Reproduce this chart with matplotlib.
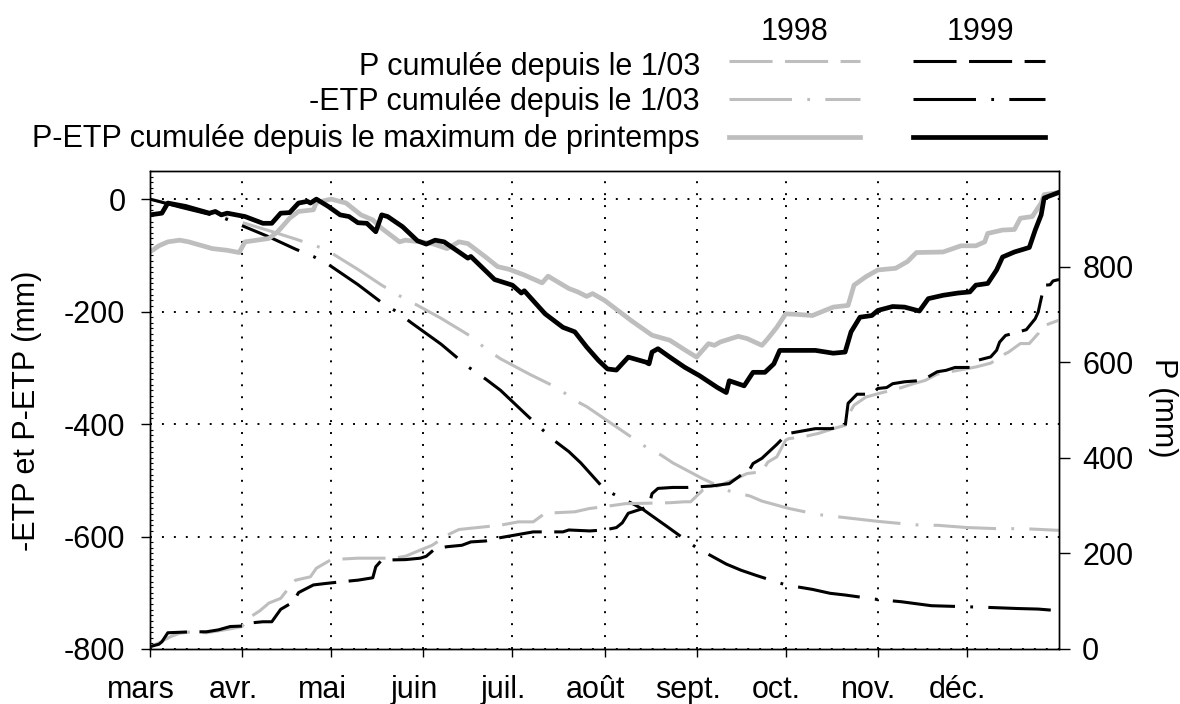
import numpy as np
import matplotlib
matplotlib.use('Agg')
import matplotlib.pyplot as plt
from matplotlib.lines import Line2D
from matplotlib.ticker import MultipleLocator
from matplotlib.transforms import ScaledTranslation

plt.rcParams['font.family'] = ['Liberation Sans', 'DejaVu Sans']
plt.rcParams['font.size'] = 22
plt.rcParams['lines.scale_dashes'] = False
plt.rcParams['axes.unicode_minus'] = False

# x = days since 1 March
month_days = [0, 31, 61, 92, 122, 153, 184, 214, 245, 275]
month_labels = ['mars', 'avr.', 'mai', 'juin', 'juil.', 'août', 'sept.', 'oct.', 'nov.', 'déc.']

# -ETP cumulée depuis le 1/03 (mm, left axis)
etp98 = [(0, 0), (10, -12), (20, -24), (30, -40), (40, -56), (49, -71), (54, -80), (59, -89),
         (70, -125), (78, -153), (84, -172), (88, -183), (98, -212), (108, -244), (113, -266),
         (118, -284), (128, -312), (138, -338), (142, -355), (147, -369), (157, -405), (167, -441),
         (172, -455), (176, -469), (186, -497), (195, -519), (202, -528), (206, -537), (215, -550),
         (225, -561), (230, -564), (235, -567), (245, -573), (255, -578), (260, -580), (265, -580),
         (275, -584), (285, -586), (294, -586), (306, -589)]
etp99 = [(0, 0), (10, -14), (20, -27), (25, -34), (30, -45), (40, -67), (49, -89), (55, -102),
         (60, -116), (70, -152), (78, -184), (83, -200), (88, -220), (98, -258), (107, -298),
         (113, -320), (118, -340), (127, -385), (136, -429), (141, -449), (145, -469), (153, -516),
         (158, -530), (163, -543), (166, -552), (170, -567), (174, -582), (184, -620), (194, -649),
         (199, -660), (204, -669), (214, -686), (223, -694), (229, -701), (234, -704), (245, -712),
         (253, -716), (263, -723), (282, -726), (292, -728), (299, -729), (306, -732)]

# P-ETP cumulée depuis le maximum de printemps (mm, left axis)
petp98 = [(0, -94), (3, -83), (6, -76), (10, -73), (13, -76), (21, -88), (26, -91), (30, -95),
          (32, -76), (36, -73), (40, -70), (43, -58), (47, -34), (50, -22), (55, -19), (56, -6),
          (61, 0), (66, -7), (71, -28), (75, -37), (78, -52), (84, -76), (86, -73), (91, -76),
          (95, -79), (100, -88), (104, -76), (107, -79), (113, -103), (117, -120), (121, -125),
          (126, -135), (132, -149), (134, -137), (141, -159), (144, -165), (147, -173), (149, -168),
          (153, -180), (162, -216), (169, -242), (175, -251), (180, -268), (184, -281), (188, -257),
          (190, -260), (192, -254), (198, -244), (201, -248), (206, -260), (208, -248), (211, -228),
          (214, -204), (218, -205), (223, -207), (230, -192), (235, -189), (237, -153), (241, -138),
          (245, -126), (251, -123), (255, -111), (258, -95), (267, -94), (273, -83), (278, -83),
          (281, -76), (282, -61), (287, -55), (291, -54), (293, -34), (297, -31), (300, -7),
          (301, 8), (305, 11)]
petp99 = [(0, -28), (4, -25), (6, -7), (12, -13), (20, -25), (22, -22), (24, -28), (26, -25),
          (32, -31), (38, -43), (41, -43), (44, -25), (47, -24), (50, -7), (53, -4), (54, -7),
          (56, 0), (60, -13), (64, -28), (67, -31), (70, -42), (73, -43), (76, -58), (78, -28),
          (80, -31), (85, -49), (90, -74), (93, -80), (96, -73), (99, -76), (104, -94), (107, -105),
          (108, -102), (116, -143), (122, -153), (125, -167), (126, -163), (133, -204), (139, -228),
          (143, -236), (147, -263), (151, -287), (154, -302), (157, -304), (161, -281), (167, -290),
          (168, -293), (169, -272), (171, -266), (175, -281), (180, -299), (185, -314), (191, -335),
          (194, -344), (195, -323), (200, -332), (203, -308), (207, -308), (210, -293), (212, -269),
          (224, -269), (230, -274), (234, -272), (236, -236), (239, -210), (243, -207), (245, -198),
          (250, -191), (254, -192), (259, -199), (262, -177), (267, -171), (272, -167), (276, -165),
          (278, -153), (282, -150), (285, -126), (287, -103), (291, -94), (296, -86), (298, -55),
          (300, -28), (301, 2), (303, 6), (306, 12)]

# P cumulée depuis le 1/03 (mm, right axis)
p98 = [(0, 4), (3, 13), (7, 26), (10, 33), (14, 36), (19, 34), (26, 41), (31, 47), (33, 64),
       (37, 80), (40, 96), (44, 106), (47, 130), (49, 144), (54, 151), (56, 169), (61, 187),
       (70, 190), (82, 190), (86, 194), (91, 207), (95, 217), (100, 238), (104, 250), (107, 252),
       (118, 259), (124, 266), (129, 266), (133, 284), (143, 287), (148, 294), (152, 297),
       (160, 304), (175, 306), (180, 308), (182, 308), (186, 332), (192, 343), (196, 353),
       (201, 367), (206, 371), (208, 391), (211, 402), (214, 437), (215, 440), (220, 444),
       (225, 451), (230, 461), (234, 468), (235, 489), (237, 510), (241, 527), (245, 534),
       (252, 545), (257, 555), (261, 562), (265, 575), (272, 583), (278, 590), (283, 598),
       (288, 618), (289, 621), (293, 639), (296, 639), (299, 660), (300, 674), (303, 681), (306, 688)]
p99 = [(0, 5), (3, 10), (4, 15), (6, 34), (14, 36), (19, 36), (23, 40), (27, 47), (31, 48),
       (33, 54), (38, 57), (41, 57), (44, 83), (47, 94), (48, 96), (50, 118), (55, 134), (59, 137),
       (65, 141), (70, 144), (75, 149), (76, 172), (78, 186), (86, 187), (91, 190), (93, 194),
       (96, 210), (100, 214), (105, 217), (108, 224), (113, 226), (118, 233), (129, 245),
       (139, 245), (141, 249), (148, 247), (153, 249), (157, 254), (159, 264), (161, 284),
       (166, 294), (168, 301), (169, 325), (171, 336), (176, 338), (181, 338), (189, 341),
       (195, 346), (199, 364), (201, 366), (203, 388), (206, 399), (211, 428), (214, 447),
       (215, 451), (224, 461), (229, 461), (234, 465), (235, 514), (238, 533), (243, 533),
       (245, 545), (248, 547), (250, 555), (254, 559), (260, 562), (265, 580), (268, 583),
       (271, 589), (276, 589), (278, 603), (283, 611), (285, 625), (286, 642), (288, 656),
       (291, 661), (295, 668), (298, 691), (299, 705), (301, 761), (303, 762), (304, 770), (306, 773)]

GRAY = '#bebebe'
DASH = (0, (31, 9))
DASHDOT = (0, (45, 11, 2, 11))
THIN, THICK = 2.2, 3.4

rows = [
    ('P cumulée depuis le 1/03', DASH, THIN),
    ('-ETP cumulée depuis le 1/03', DASHDOT, THIN),
    ('P-ETP cumulée depuis le maximum de printemps', '-', THICK),
]


def xy(pairs):
    a = np.array(pairs, dtype=float)
    return a[:, 0], a[:, 1]


W, H = 1180, 704
fig = plt.figure(figsize=(W / 100, H / 100), dpi=100)
ax = fig.add_axes([150 / W, 1 - 649 / H, 909 / W, 478 / H])
ax2 = ax.twinx()

ax.plot(*xy(etp98), color=GRAY, lw=THIN, linestyle=DASHDOT)
ax.plot(*xy(etp99), color='k', lw=THIN, linestyle=DASHDOT)
ax.plot(*xy(petp98), color=GRAY, lw=THICK)
ax.plot(*xy(petp99), color='k', lw=THICK)
ax2.plot(*xy(p98), color=GRAY, lw=THIN, linestyle=DASH)
ax2.plot(*xy(p99), color='k', lw=THIN, linestyle=DASH)

ax.set_xlim(0, 306)
ax.set_ylim(-800, 50)
ax2.set_ylim(0, 1000)

ax.set_xticks(month_days, month_labels)
ax.set_yticks([-800, -600, -400, -200, 0])
ax.yaxis.set_minor_locator(MultipleLocator(10))
ax2.set_yticks([0, 200, 400, 600, 800])

ax.tick_params(axis='x', direction='out', length=5.5, width=1, pad=13, top=False)
ax.tick_params(axis='y', which='major', direction='out', length=6.7, width=1, pad=11)
ax.tick_params(axis='y', which='minor', direction='in', length=2.5, width=0.8)
ax2.tick_params(axis='y', direction='out', length=7.7, width=1, pad=9)
for lab in ax.get_xticklabels():
    lab.set_transform(lab.get_transform() + ScaledTranslation(-0.09, 0, fig.dpi_scale_trans))

ax.grid(True, which='major', color='k', lw=1.4, linestyle=(0, (1.4, 7.2)))
for a in (ax, ax2):
    for s in a.spines.values():
        s.set_linewidth(1.0)

fig.text(27 / W, 1 - 411 / H, '-ETP et P-ETP (mm)', rotation=90, ha='center', va='center')
fig.text(1163 / W, 1 - 408 / H, 'P (mm)', rotation=270, ha='center', va='center')

# legend block
fig.text(794 / W, 1 - 40 / H, '1998', ha='center', va='baseline')
fig.text(980 / W, 1 - 40 / H, '1999', ha='center', va='baseline')
row_base = [75, 110, 147]
row_line = [61, 99, 137]
for (label, ls, lw), yb, yl in zip(rows, row_base, row_line):
    fig.text(700 / W, 1 - yb / H, label, ha='right', va='baseline')
    for x0, x1, c in [(729, 860, GRAY), (913, 1045, 'k')]:
        fig.add_artist(Line2D([x0 / W, x1 / W], [1 - yl / H, 1 - yl / H], transform=fig.transFigure,
                              color=c, lw=lw, linestyle=ls))

fig.savefig('out.png', dpi=100)
